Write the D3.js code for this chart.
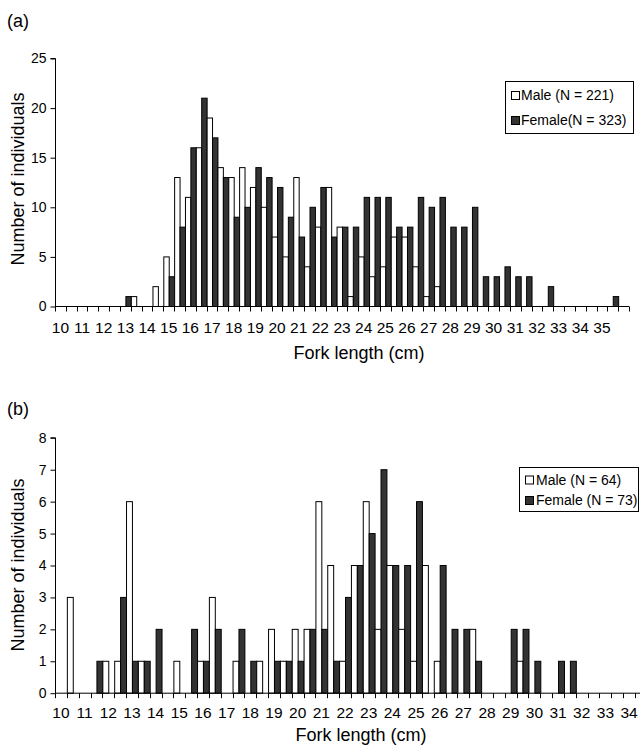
<!DOCTYPE html>
<html>
<head>
<meta charset="utf-8">
<script src="https://cdn.jsdelivr.net/npm/d3@7"></script>
<style>
  html, body { margin: 0; padding: 0; background: #fff; }
  svg { display: block; font-family: "Liberation Sans", Arial, Helvetica, sans-serif; }
</style>
</head>
<body>
<svg id="chart" width="640" height="746"></svg>
<script>
// ---------- Data ----------
// Panel (a): fork-length classes (cm), 0.5 cm bins
const categoriesA = [10,10.5,11,11.5,12,12.5,13,13.5,14,14.5,15,15.5,16,16.5,17,17.5,18,18.5,19,19.5,
  20,20.5,21,21.5,22,22.5,23,23.5,24,24.5,25,25.5,26,26.5,27,27.5,28,28.5,29,29.5,
  30,30.5,31,31.5,32,32.5,33,33.5,34,34.5,35,35.5,36];
const maleA   = [0,0,0,0,0,0,0,1,0,2, 5,13,11,16,19,14,13,14,12,10, 7,5,13,4,8,12,8,1,5,3,
  4,7,7,4,1,2,0,0,0,0, 0,0,0,0,0,0,0,0,0,0, 0,0,0];
const femaleA = [0,0,0,0,0,0,1,0,0,0, 3,8,16,21,17,13,9,10,14,13, 12,9,7,10,12,7,8,8,11,11,
  11,8,8,11,10,11,8,8,10,3, 3,4,3,3,0,2,0,0,0,0, 0,1,0];
const yTicksA = [0,5,10,15,20,25];
const xLabelsA = [10,11,12,13,14,15,16,17,18,19,20,21,22,23,24,25,26,27,28,29,30,31,32,33,34,35];
const legendA = ["Male (N = 221)", "Female(N = 323)"];

// Panel (b)
const categoriesB = [10,10.5,11,11.5,12,12.5,13,13.5,14,14.5,15,15.5,16,16.5,17,17.5,18,18.5,19,19.5,
  20,20.5,21,21.5,22,22.5,23,23.5,24,24.5,25,25.5,26,26.5,27,27.5,28,28.5,29,29.5,
  30,30.5,31,31.5,32,32.5,33,33.5,34];
const maleB   = [0,3,0,0,1,1,6,1,0,0, 1,0,1,3,0,1,0,1,2,1, 2,2,6,4,1,4,6,2,4,2,
  1,4,1,0,0,2,0,0,0,1, 0,0,0,0,0,0,0,0,0];
const femaleB = [0,0,0,1,0,3,1,1,2,0, 0,2,1,2,0,2,1,0,1,1, 1,2,2,1,3,4,5,7,4,4,
  6,0,4,2,2,1,0,0,2,2, 1,0,1,1,0,0,0,0,0];
const yTicksB = [0,1,2,3,4,5,6,7,8];
const xLabelsB = [10,11,12,13,14,15,16,17,18,19,20,21,22,23,24,25,26,27,28,29,30,31,32,33,34];
const legendB = ["Male (N = 64)", "Female (N = 73)"];

const seriesNames = ["Male", "Female"];
const FEMALE_FILL = "#333333";

const svg = d3.select("#chart");
svg.append("rect").attr("width", 640).attr("height", 746).attr("fill", "#fff");

function panel(cfg) {
  const g = svg.append("g");
  const x = d3.scaleBand().domain(cfg.cats).range([cfg.x0, cfg.x1]).paddingInner(0).paddingOuter(0);
  const sub = d3.scaleBand().domain(seriesNames).range([0, x.bandwidth()]).padding(0);
  const y = d3.scaleLinear().domain([0, cfg.ymax]).range([cfg.y0, cfg.y1]);

  // bars
  const data = [];
  cfg.cats.forEach((c, i) => {
    data.push({c, s: "Male", v: cfg.male[i]});
    data.push({c, s: "Female", v: cfg.female[i]});
  });
  g.selectAll("rect.bar").data(data.filter(d => d.v > 0)).join("rect")
    .attr("class", "bar")
    .attr("x", d => x(d.c) + sub(d.s) + 0.5)
    .attr("width", sub.bandwidth())
    .attr("y", d => y(d.v) + 0.5)
    .attr("height", d => y(0) - y(d.v))
    .attr("fill", d => d.s === "Male" ? "#fff" : FEMALE_FILL)
    .attr("stroke", "#000")
    .attr("stroke-width", 1);

  // y axis
  const yAxis = d3.axisLeft(y).tickValues(cfg.yticks).tickSize(5).tickPadding(4).tickFormat(d3.format("d"));
  const ya = g.append("g").attr("transform", `translate(${cfg.x0 + 0.5},0.5)`).call(yAxis);
  ya.select(".domain").attr("stroke", "#000").attr("d", `M-5,${y(cfg.ymax)}H0V${y(0)}`);
  ya.selectAll("text").attr("font-size", 14).attr("fill", "#000")
    .attr("font-family", "'Liberation Sans', Arial, sans-serif");
  ya.selectAll("line").attr("stroke", "#000");

  // x axis line
  g.append("line").attr("x1", cfg.x0).attr("x2", cfg.xend)
    .attr("y1", y(0) + 0.5).attr("y2", y(0) + 0.5).attr("stroke", "#000");
  // tick marks at category boundaries
  const bounds = cfg.cats.map(c => x(c)).concat([x(cfg.cats[cfg.cats.length - 1]) + x.bandwidth()]);
  g.selectAll("line.xt").data(bounds).join("line").attr("class", "xt")
    .attr("x1", d => Math.round(d) + 0.5).attr("x2", d => Math.round(d) + 0.5)
    .attr("y1", y(0) + 0.5).attr("y2", y(0) + 5.5).attr("stroke", "#000");
  // x labels (integer classes)
  const xAxis = d3.axisBottom(x).tickValues(cfg.xlabels).tickSize(0).tickPadding(0);
  const xa = g.append("g").attr("transform", `translate(0,${cfg.xlabY})`).call(xAxis);
  xa.select(".domain").remove();
  xa.selectAll("text").attr("dy", 0).attr("y", 0).attr("font-size", 15.5).attr("fill", "#000")
    .attr("font-family", "'Liberation Sans', Arial, sans-serif");

  // axis titles
  g.append("text").attr("x", cfg.xTitleX).attr("y", cfg.xTitleY).attr("text-anchor", "middle")
    .attr("font-size", 18).text("Fork length (cm)");
  g.append("text").attr("transform", `translate(24,${cfg.yTitleY}) rotate(-90)`)
    .attr("text-anchor", "middle").attr("font-size", 18).text("Number of individuals");

  // panel label
  g.append("text").attr("x", 7).attr("y", cfg.labY).attr("font-size", 18).text(cfg.label);

  // legend
  const L = cfg.legend;
  g.append("rect").attr("x", L.x + 0.5).attr("y", L.y + 0.5).attr("width", L.w).attr("height", L.h)
    .attr("fill", "#fff").attr("stroke", "#000");
  cfg.legendText.forEach((t, i) => {
    const cy = L.rows[i];
    g.append("rect").attr("x", L.sx + 0.5).attr("y", cy - 4 + 0.5).attr("width", 8).attr("height", 8)
      .attr("fill", i === 0 ? "#fff" : FEMALE_FILL).attr("stroke", "#000");
    g.append("text").attr("x", L.tx).attr("y", cy + 5).attr("font-size", 14).text(t);
  });
}

panel({
  cats: categoriesA, male: maleA, female: femaleA, ymax: 25, yticks: yTicksA, xlabels: xLabelsA,
  x0: 55, x1: 629, xend: 629, y0: 306, y1: 58, xlabY: 332.5,
  xTitleX: 359, xTitleY: 359, yTitleY: 179, label: "(a)", labY: 26.5,
  legendText: legendA,
  legend: {x: 505, y: 81, w: 128, h: 52, sx: 511, tx: 521, rows: [95, 120]}
});
panel({
  cats: categoriesB, male: maleB, female: femaleB, ymax: 8, yticks: yTicksB, xlabels: xLabelsB,
  x0: 55, x1: 635, xend: 640, y0: 692.7, y1: 437.3, xlabY: 717.5,
  xTitleX: 361, xTitleY: 741, yTitleY: 565, label: "(b)", labY: 415,
  legendText: legendB,
  legend: {x: 519, y: 467, w: 119, h: 44, sx: 525, tx: 536, rows: [479.5, 500]}
});
</script>
</body>
</html>
